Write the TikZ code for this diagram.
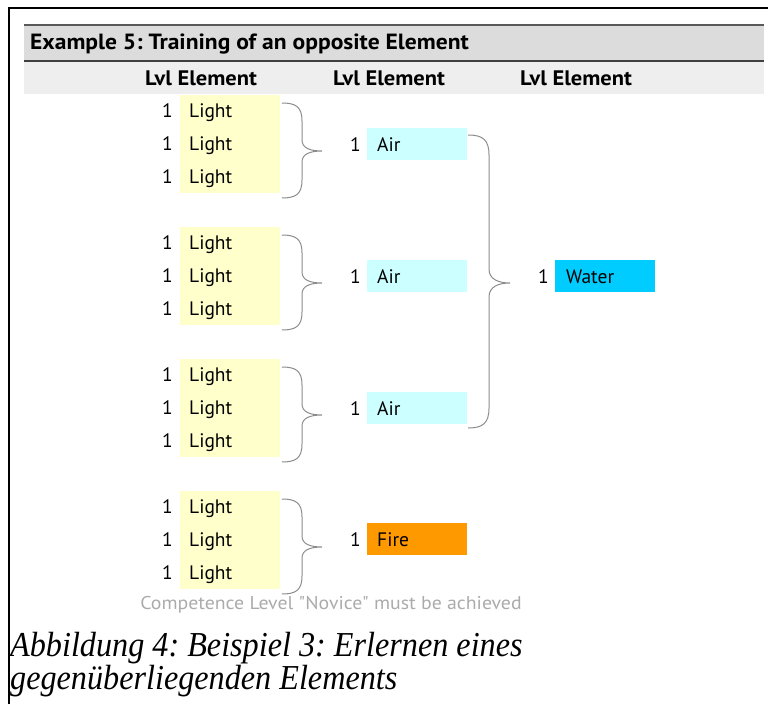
\documentclass[tikz,border=0pt]{standalone}
\usepackage{fontspec}
\setmainfont{PT Sans}
\newfontfamily\widefont[FakeStretch=1.07]{PT Sans}
\newfontfamily\capfont[FakeStretch=0.92]{Liberation Serif}
\usetikzlibrary{calc}
\frenchspacing
\definecolor{lightbox}{HTML}{FFFFCC}
\definecolor{airbox}{HTML}{CCFFFF}
\definecolor{waterbox}{HTML}{00CCFF}
\definecolor{firebox}{HTML}{FF9900}
\definecolor{hdrgray}{HTML}{DCDCDC}
\definecolor{subgray}{HTML}{EEEEEE}
\definecolor{bracegray}{HTML}{8C8C8C}
\definecolor{notegray}{HTML}{ABABAB}
\begin{document}
\begin{tikzpicture}[x=1pt,y=-1pt,
  elbox/.style={minimum width=100pt,minimum height=#1,inner sep=0pt,outer sep=0pt,anchor=north west},
  lbl/.style={font=\fontsize{19.5}{21}\selectfont,anchor=base west,inner sep=0pt},
  hdr/.style={font=\widefont\bfseries\fontsize{21}{23}\selectfont,inner sep=0pt},
  bracepath/.style={draw=bracegray,line width=1pt},
  captxt/.style={font=\capfont\itshape\fontsize{35}{37}\selectfont,anchor=base west,inner sep=0pt},
]
\useasboundingbox (0,0) rectangle (768,704);
% frame
\draw[line width=1.2pt] (9,704) -- (9,8) -- (768,8);
% header bands
\fill[hdrgray] (24,25) rectangle (764,61);
\fill[subgray] (24,62) rectangle (764,94);
\draw[line width=1.2pt,black!65] (24,25) -- (764,25);
\draw[line width=1.6pt,black!75] (24,61) -- (764,61);
\node[font=\widefont\bfseries\fontsize{22}{24}\selectfont,anchor=west,inner sep=0pt] (title) at (30,44) {Example 5: Training of an opposite Element};
\node[hdr] (h1) at (201,78) {Lvl Element};
\node[hdr] (h2) at (389,78) {Lvl Element};
\node[hdr] (h3) at (576,78) {Lvl Element};
% source groups
\foreach \g/\top in {1/95,2/227,3/359,4/491}{
  \node[elbox=98pt,fill=lightbox] (g\g) at (180,\top) {};
  \foreach \r in {0,1,2}{
    \node[lbl] (g\g l\r) at (189,\top+22+33*\r) {Light};
    \node[lbl] (g\g n\r) at (162,\top+22+33*\r) {1};
  }
  % brace
  \path ($(g\g.north east)+(2,8)$) coordinate (b\g t)
        ($(g\g.north east)+(2,103)$) coordinate (b\g b)
        ($(g\g.north east)+(42,56)$) coordinate (b\g m);
  \draw[bracepath] (b\g t) .. controls ($(b\g t)+(14,0)$) and ($(b\g t)+(20,4)$) .. ($(b\g t)+(20,18)$)
     -- ($(b\g m)+(-20,-11)$) .. controls ($(b\g m)+(-20,-3)$) and ($(b\g m)+(-12,0)$) .. (b\g m)
     .. controls ($(b\g m)+(-12,0)$) and ($(b\g m)+(-20,3)$) .. ($(b\g m)+(-20,11)$)
     -- ($(b\g b)+(20,-18)$) .. controls ($(b\g b)+(20,-4)$) and ($(b\g b)+(14,0)$) .. (b\g b);
}
% targets
\node[elbox=32pt,fill=airbox] (a1) at (367,128) {};
\node[elbox=32pt,fill=airbox] (a2) at (367,260) {};
\node[elbox=32pt,fill=airbox] (a3) at (367,392) {};
\node[elbox=32pt,fill=firebox] (f1) at (367,523) {};
\node[lbl] (a1t) at (377,151) {Air};
\node[lbl] (a2t) at (377,283) {Air};
\node[lbl] (a3t) at (377,415) {Air};
\node[lbl] (f1t) at (377,546) {Fire};
\node[lbl] (a1n) at (350,151) {1};
\node[lbl] (a2n) at (350,283) {1};
\node[lbl] (a3n) at (350,415) {1};
\node[lbl] (f1n) at (350,546) {1};
% big brace
\path (468,135) coordinate (Bt) (468,428) coordinate (Bb) (510,283) coordinate (Bm);
\draw[bracepath] (Bt) .. controls ($(Bt)+(15,0)$) and ($(Bt)+(21,5)$) .. ($(Bt)+(21,20)$)
   -- ($(Bm)+(-21,-14)$) .. controls ($(Bm)+(-21,-4)$) and ($(Bm)+(-12,0)$) .. (Bm)
   .. controls ($(Bm)+(-12,0)$) and ($(Bm)+(-21,4)$) .. ($(Bm)+(-21,14)$)
   -- ($(Bb)+(21,-20)$) .. controls ($(Bb)+(21,-5)$) and ($(Bb)+(15,0)$) .. (Bb);
% water
\node[elbox=32pt,fill=waterbox] (w1) at (555,260) {};
\node[lbl] (w1t) at (566,283) {Water};
\node[lbl] (w1n) at (538,283) {1};
% note
\node[font=\widefont\fontsize{18.5}{20}\selectfont,text=notegray,inner sep=0pt] (note) at (331,605) {Competence Level "Novice" must be achieved};
% caption
\node[captxt] (cap1) at (10,656) {Abbildung 4: Beispiel 3: Erlernen eines};
\node[captxt] (cap2) at (10,689) {gegenüberliegenden Elements};
\end{tikzpicture}
\end{document}
